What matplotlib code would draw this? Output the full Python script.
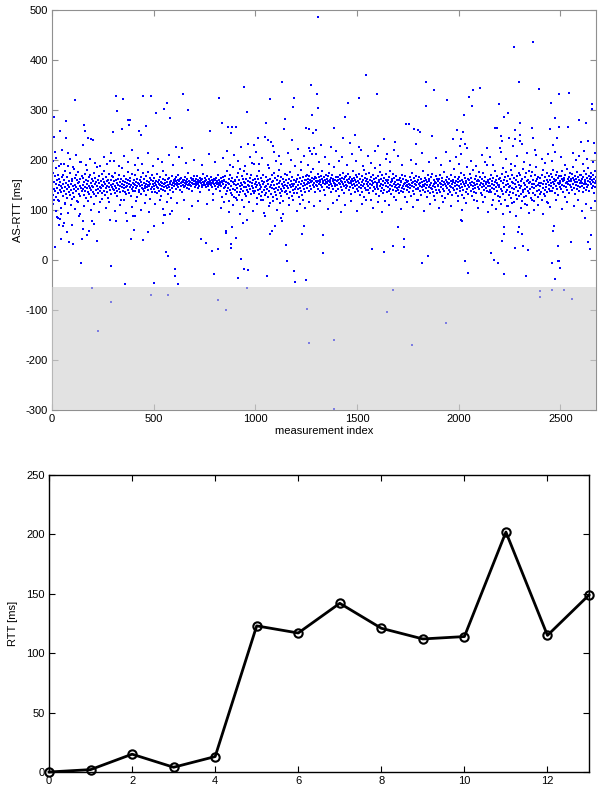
import matplotlib
matplotlib.use("Agg")
import matplotlib.pyplot as plt
import numpy as np

plt.rcParams['font.family'] = ['Liberation Sans', 'DejaVu Sans']
plt.rcParams['font.size'] = 8
plt.rcParams['axes.unicode_minus'] = False

## AS-RTT samples: dense band (one value every 2 measurements)
band = [
148, 162, 131, 175, 143, 156, 121, 168, 139, 152, 185, 127, 160, 145, 134, 171, 150, 118, 163, 141, 157, 192, 136, 149, 166,
144, 128, 170, 153, 139, 161, 112, 147, 178, 133, 155, 142, 167, 125, 150, 188, 137, 159, 146, 131, 174, 152, 140, 163, 122,
158, 135, 149, 182, 143, 127, 165, 151, 138, 171, 146, 160, 119, 154, 142, 176, 133, 157, 148, 162, 129, 196, 145, 139, 168,
151, 142, 164, 130, 156, 147, 173, 138, 160, 124, 153, 145, 181, 136, 158, 149, 166, 132, 144, 170, 155, 140, 127, 162, 148,
137, 159, 146, 175, 133, 152, 164, 141, 128, 157, 149, 186, 143, 161, 135, 154, 169, 147, 139, 116, 158, 145, 172, 150, 134,
163, 148, 139, 156, 178, 131, 152, 144, 167, 158, 137, 149, 125, 161, 146, 173, 155, 140, 199, 151, 132, 160, 147, 168, 143,
152, 166, 141, 158, 134, 149, 175, 145, 160, 138, 155, 129, 163, 150, 143, 171, 157, 136, 148, 162, 120, 153, 146, 184, 139,
158, 144, 151, 169, 137, 156, 147, 163, 132, 154, 149, 177, 141, 160, 152, 135, 165, 146, 158, 128, 150, 143, 172, 155, 138,
147, 161, 153, 139, 170, 150, 144, 157, 126, 163, 148, 155, 181, 141, 152, 137, 160, 149, 166, 133, 156, 145, 151, 174, 142,
155, 138, 162, 149, 145, 168, 153, 131, 158, 146, 151, 176, 140, 157, 148, 164, 122, 153, 143, 160, 147, 170, 136, 152, 159,
149, 164, 142, 155, 137, 158, 151, 147, 172, 134, 156, 145, 161, 153, 139, 150, 167, 143, 157, 128, 154, 148, 163, 141, 178,
153, 146, 160, 138, 155, 149, 171, 144, 157, 133, 162, 151, 147, 165, 140, 156, 152, 124, 159, 145, 168, 150, 137, 154, 161,
156, 148, 163, 152, 159, 143, 167, 155, 150, 160, 146, 171, 153, 158, 141, 162, 154, 149, 165, 157, 137, 160, 151, 156, 147,
161, 154, 149, 166, 152, 158, 145, 163, 156, 150, 175, 153, 159, 142, 157, 151, 164, 148, 160, 155, 139, 162, 153, 158, 168,
152, 159, 147, 162, 155, 150, 168, 157, 144, 161, 153, 156, 149, 165, 158, 136, 154, 160, 151, 163, 147, 157, 172, 155, 150,
158, 151, 164, 146, 160, 155, 152, 169, 148, 157, 162, 153, 141, 159, 156, 150, 166, 154, 147, 161, 155, 158, 133, 163, 152,
149, 160, 155, 143, 165, 152, 158, 147, 170, 154, 150, 161, 138, 157, 153, 164, 148, 159, 156, 126, 152, 167, 145, 158, 161,
146, 168, 132, 157, 150, 179, 139, 155, 144, 162, 118, 153, 171, 141, 158, 135, 149, 165, 130, 156, 187, 143, 152, 127, 160,
141, 159, 150, 124, 166, 145, 137, 174, 152, 131, 160, 148, 183, 136, 155, 143, 168, 121, 151, 162, 139, 157, 146, 178, 133,
154, 129, 163, 147, 140, 172, 151, 136, 158, 117, 149, 165, 142, 156, 132, 170, 148, 155, 138, 161, 145, 193, 134, 152, 163,
138, 157, 146, 124, 168, 150, 141, 162, 133, 155, 179, 143, 151, 128, 164, 147, 136, 159, 120, 153, 171, 140, 157, 146, 130,
149, 166, 135, 158, 143, 127, 161, 152, 185, 139, 147, 114, 163, 150, 133, 170, 144, 156, 126, 159, 142, 175, 151, 137, 164,
145, 131, 160, 153, 122, 168, 140, 155, 147, 181, 134, 158, 143, 166, 129, 152, 138, 162, 148, 119, 157, 145, 173, 136, 150,
161, 139, 148, 170, 132, 155, 144, 125, 163, 151, 137, 176, 146, 158, 128, 153, 167, 141, 149, 134, 160, 152, 188, 143, 156,
147, 158, 135, 162, 150, 142, 171, 127, 156, 145, 164, 139, 153, 180, 131, 159, 148, 166, 121, 154, 143, 161, 137, 150, 169,
160, 152, 171, 145, 163, 157, 139, 168, 154, 160, 148, 176, 156, 143, 165, 159, 151, 182, 147, 162, 155, 136, 167, 158, 150,
164, 156, 149, 172, 158, 143, 166, 153, 161, 138, 157, 169, 150, 163, 146, 178, 155, 159, 141, 167, 152, 160, 131, 156, 170,
155, 162, 147, 168, 159, 151, 174, 144, 160, 156, 137, 165, 153, 149, 171, 158, 142, 163, 155, 186, 148, 161, 152, 166, 139,
158, 150, 167, 143, 161, 155, 128, 163, 152, 170, 146, 159, 164, 140, 157, 153, 175, 148, 162, 134, 156, 166, 151, 145, 169,
161, 148, 157, 172, 140, 163, 154, 146, 167, 159, 133, 155, 162, 150, 178, 144, 158, 153, 165, 137, 160, 149, 171, 156, 142,
150, 166, 139, 158, 147, 173, 155, 131, 162, 151, 144, 169, 157, 136, 160, 148, 181, 153, 126, 164, 145, 158, 140, 172, 152,
163, 141, 156, 149, 175, 135, 160, 153, 145, 167, 121, 158, 150, 171, 138, 155, 162, 147, 184, 143, 157, 133, 164, 151, 146,
154, 168, 142, 160, 129, 157, 149, 176, 139, 163, 152, 145, 170, 134, 158, 150, 165, 141, 155, 119, 161, 148, 173, 137, 159,
147, 160, 155, 138, 167, 151, 143, 178, 156, 132, 162, 149, 158, 140, 172, 153, 127, 164, 146, 157, 139, 169, 150, 161, 144,
152, 141, 160, 147, 134, 165, 150, 156, 138, 158, 145, 171, 149, 136, 162, 153, 143, 168, 126, 155, 148, 160, 140, 157, 151,
146, 159, 137, 153, 166, 144, 150, 129, 161, 148, 155, 174, 139, 157, 147, 164, 133, 152, 158, 142, 169, 150, 121, 156, 145,
160, 143, 152, 167, 138, 155, 149, 162, 131, 157, 146, 178, 151, 140, 159, 148, 165, 136, 153, 144, 161, 127, 156, 150, 170,
139, 158, 147, 163, 151, 134, 166, 145, 155, 142, 172, 149, 137, 160, 153, 128, 157, 146, 168, 141, 154, 162, 135, 150, 159,
148, 162, 140, 155, 171, 136, 152, 147, 165, 129, 158, 150, 143, 176, 139, 156, 153, 124, 161, 149, 167, 144, 157, 133, 152,
155, 141, 163, 149, 137, 158, 170, 146, 152, 131, 160, 145, 157, 182, 140, 154, 148, 166, 135, 159, 151, 143, 162, 128, 156,
149, 167, 138, 158, 145, 175, 152, 130, 161, 147, 156, 140, 171, 153, 125, 164, 148, 159, 136, 155, 187, 143, 150, 162, 133,
160, 146, 155, 172, 139, 151, 165, 128, 157, 148, 180, 142, 154, 137, 163, 150, 145, 169, 134, 158, 152, 118, 161, 147, 176,
143, 158, 150, 166, 135, 155, 147, 162, 131, 152, 174, 140, 159, 148, 167, 126, 156, 144, 153, 190, 138, 161, 149, 157, 136,
154, 141, 163, 149, 170, 137, 158, 145, 152, 121, 165, 150, 142, 178, 156, 133, 160, 147, 155, 139, 168, 151, 129, 162, 146,
151, 127, 165, 143, 158, 112, 172, 139, 154, 184, 133, 160, 146, 120, 167, 150, 137, 176, 141, 158, 108, 153, 169, 131, 147,
162, 136, 149, 180, 125, 157, 144, 171, 134, 155, 116, 165, 142, 152, 189, 130, 160, 147, 122, 168, 139, 156, 175, 128, 151,
145, 170, 132, 158, 149, 118, 163, 141, 183, 137, 154, 127, 166, 150, 143, 174, 129, 159, 146, 111, 161, 138, 155, 178, 134,
157, 142, 168, 124, 152, 147, 177, 135, 160, 119, 153, 144, 171, 130, 158, 149, 186, 138, 163, 126, 150, 167, 141, 155, 132,
148, 164, 137, 155, 120, 170, 145, 152, 181, 133, 159, 141, 166, 128, 153, 147, 175, 136, 161, 115, 156, 143, 169, 150, 139,
160, 148, 172, 155, 139, 166, 157, 145, 180, 152, 163, 134, 158, 170, 149, 161, 142, 176, 155, 131, 164, 153, 168, 147, 159,
155, 169, 143, 162, 151, 178, 137, 158, 165, 148, 160, 127, 171, 154, 146, 183, 157, 141, 163, 152, 167, 135, 159, 174, 150,
163, 147, 158, 172, 140, 165, 153, 186, 145, 160, 156, 132, 169, 151, 162, 143, 177, 157, 148, 166, 138, 161, 154, 171, 146,
158, 170, 149, 163, 155, 136, 167, 152, 179, 144, 160, 157, 141, 173, 153, 164, 147, 185, 159, 150, 168, 139, 162, 156, 175,
152, 166, 144, 160, 171, 148, 157, 135, 163, 154, 178, 146, 159, 167, 150, 142, 161, 155, 173, 149, 165, 138, 158, 170, 151,
]

# sparser points just above and below the band
fringe_hi_idx = [5, 22, 35, 48, 58, 88, 105, 120, 138, 150, 168, 185, 212, 235, 255, 270, 290, 305, 330, 355,
                 372, 395, 410, 425, 445, 470, 495, 520, 540, 575, 595, 625, 660, 700, 740, 770, 800, 840, 860, 875,
                 895, 915, 930, 950, 975, 985, 1005, 1020, 1035, 1060, 1085, 1100, 1115, 1125, 1160, 1175, 1195, 1210, 1225, 1240,
                 1258, 1300, 1315, 1340, 1360, 1395, 1410, 1425, 1450, 1475, 1495, 1530, 1555, 1570, 1590, 1615, 1640, 1660, 1700, 1720,
                 1765, 1790, 1820, 1855, 1890, 1915, 1935, 1955, 1985, 2000, 2040, 2060, 2085, 2115, 2130, 2155, 2170, 2210, 2230, 2255,
                 2265, 2285, 2320, 2335, 2350, 2375, 2410, 2425, 2440, 2460, 2505, 2525, 2560, 2575, 2590, 2610, 2630, 2660, 2672]
fringe_hi_val = [198, 205, 189, 221, 193, 202, 187, 211, 196, 230, 190, 203, 195, 188, 207, 192, 214, 199, 188, 209,
                 196, 220, 190, 205, 193, 215, 189, 203, 197, 210, 191, 206, 194, 200, 190, 213, 197, 205, 219, 191,
                 210, 198, 226, 189, 207, 195, 216, 192, 204, 190, 228, 198, 209, 193, 215, 200, 188, 222, 196, 208,
                 191, 212, 197, 206, 192, 218, 198, 207, 190, 213, 199, 188, 208, 195, 219, 191, 203, 197, 209, 190,
                 201, 193, 214, 196, 205, 190, 217, 198, 207, 192, 224, 199, 189, 211, 197, 206, 190, 216, 202, 193,
                 229, 208, 197, 214, 190, 221, 203, 195, 212, 198, 206, 191, 215, 200, 209, 193, 203, 197, 214]
fringe_lo_idx = [3, 18, 28, 45, 62, 78, 92, 115, 128, 140, 156, 175, 192, 208, 230, 248, 265, 280, 310, 335,
                 352, 365, 392, 415, 440, 458, 478, 505, 530, 545, 565, 590, 615, 650, 690, 720, 760, 790, 830, 848,
                 870, 892, 908, 922, 945, 968, 990, 1010, 1028, 1042, 1068, 1088, 1105, 1120, 1138, 1165, 1183, 1205, 1220, 1245,
                 1262, 1290, 1320, 1355, 1380, 1400, 1420, 1440, 1470, 1500, 1525, 1545, 1580, 1605, 1625, 1655, 1690, 1715, 1745, 1775,
                 1798, 1830, 1860, 1885, 1905, 1925, 1960, 1995, 2015, 2038, 2075, 2095, 2120, 2145, 2165, 2185, 2200, 2218, 2235, 2250,
                 2262, 2282, 2305, 2325, 2345, 2358, 2372, 2390, 2415, 2432, 2448, 2480, 2510, 2530, 2565, 2585, 2605, 2625, 2650, 2668]
fringe_lo_val = [112, 98, 120, 105, 115, 95, 110, 102, 117, 92, 108, 119, 100, 113, 96, 122, 104, 116, 98, 111,
                 121, 94, 107, 118, 101, 115, 97, 112, 120, 103, 116, 99, 114, 121, 108, 118, 112, 120, 104, 116,
                 97, 110, 121, 93, 106, 117, 99, 112, 120, 95, 108, 118, 101, 114, 92, 110, 120, 98, 113, 104,
                 117, 108, 119, 102, 115, 121, 96, 111, 118, 99, 113, 121, 105, 116, 97, 110, 120, 103, 117, 107,
                 120, 98, 113, 121, 104, 116, 109, 119, 100, 114, 121, 105, 117, 96, 110, 102, 118, 92, 108, 97,
                 115, 89, 104, 112, 95, 120, 101, 110, 93, 117, 106, 120, 103, 116, 108, 121, 99, 112, 105, 118]

# outliers above the band (measurement index, AS-RTT)
high_idx = [10, 12, 14, 111, 39, 67, 70, 80, 159, 163, 177, 190, 200, 316, 319, 349, 300, 343, 374, 383,
            380, 429, 437, 449, 460, 485, 513, 552, 567, 580, 645, 667, 609, 640, 778, 821, 834, 866, 885, 905,
            878, 942, 957, 965, 994, 1015, 1050, 1045, 1063, 1075, 1073, 1090, 1132, 1148, 1140, 1184, 1189, 1180, 1250, 1265,
            1273, 1285, 1303, 1309, 1309, 1280, 1296, 1262, 1290, 1270, 1278, 1322, 1386, 1370, 1433, 1443, 1455, 1465, 1488, 1512,
            1510, 1518, 1546, 1597, 1602, 1633, 1648, 1680, 1686, 1741, 1755, 1780, 1800, 1808, 1792, 1838, 1841, 1879, 1871, 1943,
            1970, 1992, 2012, 2008, 2012, 2025, 2052, 2065, 2069, 2103, 2020, 2032, 2137, 2180, 2188, 2197, 2224, 2244, 2207, 2214,
            2205, 2245, 2273, 2296, 2300, 2275, 2300, 2302, 2278, 2310, 2364, 2394, 2360, 2366, 2381, 2452, 2450, 2474, 2494, 2542,
            2492, 2536, 2465, 2473, 2485, 2593, 2627, 2653, 2655, 2600, 2618, 2638, 2665]
high_val = [287, 247, 217, 320, 259, 279, 245, 214, 270, 258, 245, 242, 240, 328, 298, 322, 256, 262, 280, 280,
            270, 258, 250, 329, 269, 329, 295, 303, 315, 285, 332, 301, 227, 225, 259, 325, 275, 266, 267, 266,
            255, 347, 297, 233, 231, 245, 275, 247, 240, 237, 322, 217, 357, 283, 262, 307, 325, 241, 265, 262,
            350, 255, 333, 305, 487, 290, 260, 225, 225, 218, 213, 231, 265, 227, 245, 287, 315, 235, 250, 325,
            226, 221, 371, 333, 229, 243, 213, 220, 237, 272, 272, 263, 260, 257, 232, 356, 308, 341, 249, 321,
            242, 261, 243, 228, 213, 291, 327, 309, 341, 345, 257, 233, 224, 264, 265, 313, 287, 295, 248, 238,
            225, 245, 427, 357, 275, 260, 250, 238, 243, 232, 437, 343, 264, 245, 211, 315, 262, 285, 332, 335,
            267, 267, 230, 217, 245, 281, 275, 312, 302, 237, 218, 238, 235]

# outliers below the band
low_idx = [15, 23, 31, 39, 34, 43, 43, 56, 60, 84, 102, 98, 75, 133, 144, 147, 154, 152, 173, 180,
           197, 195, 205, 220, 224, 289, 292, 285, 315, 360, 370, 388, 398, 406, 405, 449, 470, 485, 500, 502,
           548, 550, 555, 559, 568, 568, 580, 603, 603, 620, 675, 732, 755, 788, 816, 795, 818, 858, 854, 856,
           878, 882, 886, 903, 916, 927, 940, 942, 957, 960, 965, 1045, 1058, 1072, 1080, 1096, 1125, 1132, 1153, 1156,
           1190, 1197, 1247, 1252, 1265, 1228, 1237, 1333, 1334, 1387, 1387, 1574, 1631, 1648, 1679, 1675, 1703, 1733, 1733, 1770,
           1820, 1848, 1935, 2033, 2044, 2012, 2018, 2159, 2173, 2193, 2224, 2215, 2222, 2224, 2278, 2290, 2298, 2329, 2340, 2318,
           2313, 2401, 2401, 2458, 2471, 2458, 2490, 2495, 2497, 2490, 2465, 2467, 2519, 2557, 2552, 2638, 2645, 2648, 2620]
low_val = [26, 87, 85, 83, 70, 93, 42, 69, 75, 37, 33, 71, 57, 89, -5, 42, 62, 79, 50, 58,
           79, -55, 73, 38, -141, -11, -83, 81, 79, -47, 78, 42, 89, 89, 61, 40, 57, -70, -45, 68,
           75, 90, 91, 17, 8, -70, 93, -17, -32, -48, 83, 43, 35, 19, 22, -28, -80, -99, 58, 55,
           33, 24, 67, 45, -35, 3, 75, -18, 80, -55, -20, 88, -32, 53, 58, 69, 85, 78, 31, -2,
           -22, -43, -40, -98, -166, 53, 68, 51, 15, -159, -297, 23, 17, -103, -60, 29, 67, 42, 27, -170,
           -5, 9, -125, -2, -26, 80, 78, 15, 0, -5, -28, 38, 53, 67, 25, 57, 67, -31, 20, 29,
           52, -61, -73, -59, -38, -5, -1, -1, -15, 29, 58, 69, -60, -77, 37, 36, 22, 51, 85]

## hop-by-hop RTT
hops = list(range(14))
rtt = [0, 2, 15, 4, 13, 123, 117, 142, 121, 112, 114, 202, 115, 149]

fig = plt.figure(figsize=(6, 7.9), dpi=100)

# top: AS-RTT scatter
ax1 = fig.add_axes([52/600, 1-410/790, 544/600, 400/790])
band_idx = np.arange(len(band))*2
for xs, ys in [(band_idx, band), (fringe_hi_idx, fringe_hi_val), (fringe_lo_idx, fringe_lo_val),
               (high_idx, high_val), (low_idx, low_val)]:
    ax1.scatter(xs, ys, s=3, marker='s', color='#0000ff', linewidths=0, zorder=2)
ax1.axhspan(-300, -53, color='#d0d0d0', alpha=0.6, linewidth=0, zorder=3)
ax1.set_xlim(0, 2675)
ax1.set_ylim(-300, 500)
ax1.set_xticks([0, 500, 1000, 1500, 2000, 2500])
ax1.set_yticks(range(-300, 501, 100))
ax1.set_xlabel('measurement index', labelpad=1)
ax1.set_ylabel('AS-RTT [ms]', labelpad=2)
ax1.tick_params(direction='in', top=True, right=True, length=4, color='#909090', pad=3)
for s in ax1.spines.values():
    s.set_color('#909090')
    s.set_linewidth(0.8)

# bottom: RTT per hop
ax2 = fig.add_axes([49/600, 1-772/790, 540/600, 297/790])
ax2.plot(hops, rtt, '-o', color='black', linewidth=2, markersize=6,
         markerfacecolor='none', markeredgewidth=1.5, clip_on=False)
ax2.set_xlim(0, 13)
ax2.set_ylim(0, 250)
ax2.set_xticks(range(0, 13, 2))
ax2.set_yticks(range(0, 251, 50))
ax2.set_ylabel('RTT [ms]', labelpad=6)
ax2.tick_params(direction='in', top=True, right=True, length=4, pad=3)
for s in ax2.spines.values():
    s.set_linewidth(1.0)

plt.savefig('out.png', dpi=100)
